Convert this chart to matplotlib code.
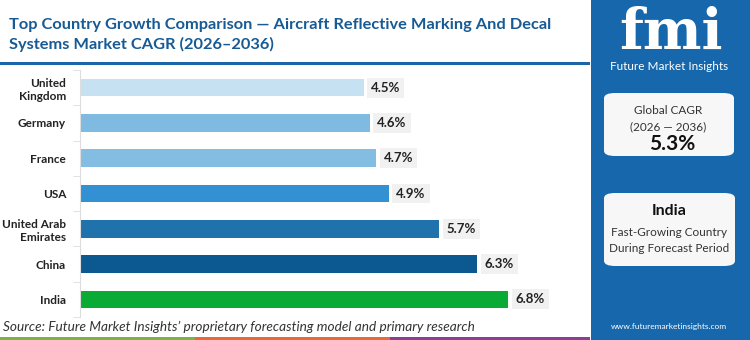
import matplotlib.pyplot as plt
from matplotlib.patches import FancyBboxPatch, Rectangle

countries = ["United\nKingdom", "Germany", "France", "USA", "United Arab\nEmirates", "China", "India"]
cagr = [4.5, 4.6, 4.7, 4.9, 5.7, 6.3, 6.8]
bar_colors = ["#c5e1f2", "#7fbae0", "#84bde2", "#3391d3", "#1f72ab", "#0c5891", "#0aab35"]

title = "Top Country Growth Comparison \u2014 Aircraft Reflective Marking And Decal\nSystems Market CAGR (2026\u20132036)"
source = "Source: Future Market Insights\u2019 proprietary forecasting model and primary research"
global_cagr = "5.3%"
top_country = "India"

plt.rcParams['font.family'] = ['Lato', 'DejaVu Sans']

W, H = 750, 340
fig = plt.figure(figsize=(W / 100, H / 100), dpi=100)
fig.patch.set_facecolor("white")

def fx(px):
    return px / W

def fy(py):
    return 1 - py / H

# title + rule
fig.text(fx(9), fy(35), title, fontsize=11.8, fontweight="bold", color="#175a94",
         va="center", ha="left", linespacing=1.35)
fig.add_artist(Rectangle((fx(0), fy(65)), fx(590), 3 / H, transform=fig.transFigure,
                         color="#1a66a8", lw=0))

# bars
ax = fig.add_axes([fx(80), fy(317), fx(500), (317 - 70) / H])
y = list(range(len(countries)))
ax.barh(y, cagr, height=0.5, color=bar_colors)
ax.set_ylim(len(countries) - 0.5, -0.5)
ax.set_xlim(0, 500 / 63)
for yi, v in zip(y, cagr):
    ax.text(v + 0.12, yi, f"{v}%", va="center", ha="left", fontsize=9.5, fontweight="bold",
            color="#222222", bbox=dict(boxstyle="square,pad=0.3", fc="#f1f1f1", ec="none"))
ax.set_yticks(y)
ax.set_yticklabels(countries, fontsize=8.5, fontweight="bold", color="#222222", linespacing=1.3)
ax.set_yticks([i + 0.5 for i in range(-1, len(countries))], minor=True)
ax.tick_params(axis="y", which="major", length=0, pad=10)
ax.tick_params(axis="y", which="minor", length=5, color="#dddddd")
ax.set_xticks([])
for s in ["top", "right", "bottom"]:
    ax.spines[s].set_visible(False)
ax.spines["left"].set_color("#dddddd")

fig.text(fx(3), fy(327), source, fontsize=9.8, style="italic", color="#333333",
         va="center", ha="left")

# bottom strips
for x0, c in [(0, "#7cb342"), (195, "#e8683a"), (390, "#8e3d96")]:
    fig.add_artist(Rectangle((fx(x0), 0), fx(195 if x0 < 390 else 200), 3 / H,
                             transform=fig.transFigure, color=c, lw=0))

# right panel
fig.add_artist(Rectangle((fx(591), 0), fx(159), 1, transform=fig.transFigure,
                         color="#1667ab", lw=0))
fig.text(fx(671), fy(33), "fmi", fontsize=40, fontweight="bold", color="white",
         ha="center", va="center", family=["DejaVu Serif"])
fig.text(fx(669), fy(67), "Future Market Insights", fontsize=8.5, color="white",
         ha="center", va="center")

for (x0, y0, x1, y1) in [(604, 93, 734, 156), (604, 193, 735, 266)]:
    fig.add_artist(FancyBboxPatch((fx(x0), fy(y1)), fx(x1 - x0), (y1 - y0) / H,
                                  boxstyle="round,pad=0,rounding_size=0.015",
                                  transform=fig.transFigure, fc="#f7f7f7", ec="none"))
fig.text(fx(668), fy(111), "Global CAGR", fontsize=8.5, color="#333333", ha="center", va="center")
fig.text(fx(668), fy(127), "(2026 \u2014 2036)", fontsize=8.5, color="#333333", ha="center", va="center")
fig.text(fx(672), fy(144), global_cagr, fontsize=15, fontweight="bold", color="#111111",
         ha="center", va="center")
fig.text(fx(669), fy(211), top_country, fontsize=11.5, fontweight="bold", color="#111111",
         ha="center", va="center")
fig.text(fx(669), fy(233), "Fast-Growing Country", fontsize=8.5, color="#333333", ha="center", va="center")
fig.text(fx(669), fy(249), "During Forecast Period", fontsize=8.5, color="#333333", ha="center", va="center")
fig.text(fx(669), fy(327), "www.futuremarketinsights.com", fontsize=6, color="white",
         ha="center", va="center")

fig.savefig("out.png", dpi=100)
